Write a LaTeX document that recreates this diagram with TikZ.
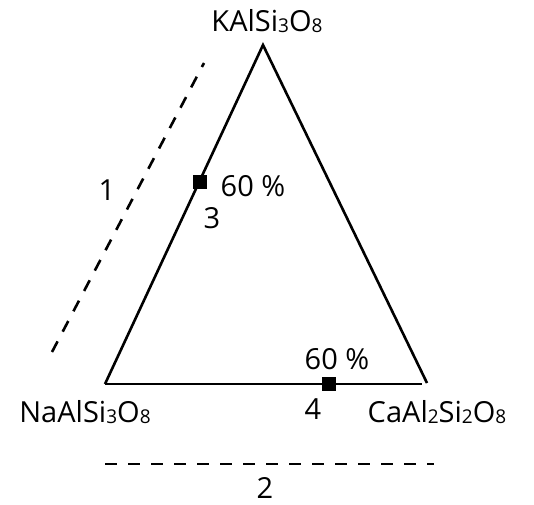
\documentclass[tikz,border=0pt]{standalone}
\usepackage{fontspec}
\setmainfont{Open Sans}
\usetikzlibrary{positioning}
\newcommand{\chemsub}[1]{\raisebox{-0.1ex}{\fontsize{19pt}{19pt}\selectfont #1}}
\tikzset{
  lbl/.style={font=\fontsize{29pt}{31pt}\selectfont, inner sep=0pt},
  side/.style={line width=2.6pt},
  guide/.style={line width=2.6pt, dash pattern=on 12pt off 11pt},
  sqr/.style={rectangle, fill, minimum size=14pt, inner sep=0pt},
  every picture/.style={line cap=butt, line join=miter}
}
\begin{document}
\begin{tikzpicture}[x=1pt,y=1pt]
  \useasboundingbox (0,0) rectangle (534,504);
  % corners of the ternary diagram
  \coordinate (k) at (263,459);
  \coordinate (na) at (105,120);
  \coordinate (ca) at (427,121);
  \draw[side] (na)--(k)--(ca);
  \draw[side] (na)--(422,120);
  % composition points
  \node[sqr] (p3) at (200,322) {};
  \node[sqr] (p4) at (329,120) {};
  % guides
  \coordinate (g1a) at (52,152);
  \coordinate (g1b) at (204,441);
  \coordinate (g2a) at (105,40);
  \coordinate (g2b) at (434,40);
  \draw[guide] (g1a)--(g1b);
  \draw[guide] (g2a)--(g2b);
  % labels
  \node[lbl] (lk) at (267,483) {KAlSi\chemsub{3}O\chemsub{8}};
  \node[lbl] (lna) at (85,92) {NaAlSi\chemsub{3}O\chemsub{8}};
  \node[lbl] (lca) at (437,92) {CaAl\chemsub{2}Si\chemsub{2}O\chemsub{8}};
  \node[lbl] (l1) at (107,314) {1};
  \node[lbl] (l2) at (265,16) {2};
  \node[lbl] (l3) at (212,286) {3};
  \node[lbl] (l4) at (313,95) {4};
  \node[lbl] (pc3) at (253,318) {60 \%};
  \node[lbl] (pc4) at (337,145) {60 \%};
\end{tikzpicture}
\end{document}
